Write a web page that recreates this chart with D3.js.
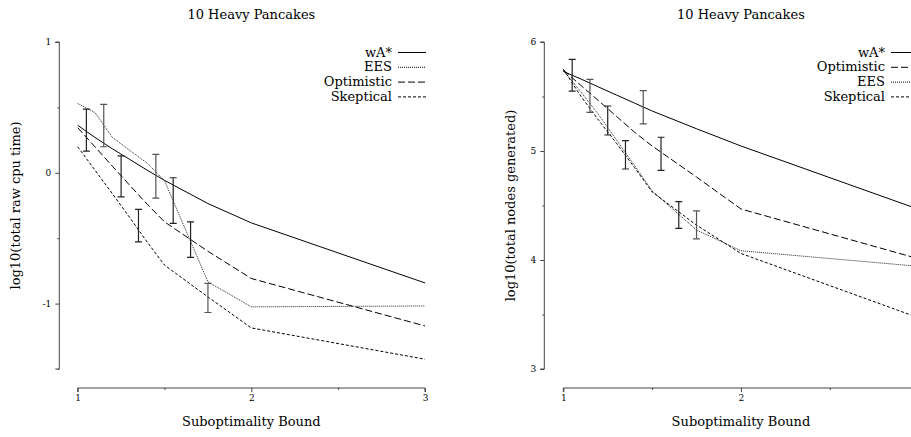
<!DOCTYPE html>
<html><head><meta charset="utf-8">
<script src="https://cdn.jsdelivr.net/npm/d3@7"></script>
<style>
body{margin:0;background:#fff;}
svg{display:block;}
text{font-family:"DejaVu Serif",serif;fill:#000;}
</style></head>
<body>
<svg id="chart" width="911" height="437"></svg>
<script>
// ---- data ----
const bounds = [1, 1.1, 1.2, 1.3, 1.4, 1.5, 1.75, 2, 3];
const cpuWA   = [0.363, 0.27, 0.183, 0.102, 0.02, -0.058, -0.235, -0.383, -0.842];
const cpuEES  = [0.53, 0.46, 0.27, 0.171, 0.074, -0.06, -0.834, -1.025, -1.018];
const cpuOpt  = [0.345, 0.198, 0.05, -0.096, -0.24, -0.375, -0.60, -0.808, -1.171];
const cpuSkep = [0.199, 0.019, -0.16, -0.343, -0.529, -0.706, -0.949, -1.186, -1.425];

const nodesWA   = [5.73, 5.66, 5.586, 5.513, 5.44, 5.367, 5.204, 5.046, 4.465];
const nodesOpt  = [5.743, 5.60, 5.459, 5.317, 5.174, 5.046, 4.761, 4.468, 4.011];
const nodesEES  = [5.74, 5.54, 5.33, 5.10, 4.87, 4.633, 4.275, 4.085, 3.942];
const nodesSkep = [5.75, 5.50, 5.28, 5.07, 4.85, 4.625, 4.32, 4.06, 3.47];

const errX       = [1.05, 1.15, 1.25, 1.35, 1.45, 1.55, 1.65, 1.75];
const cpuErrLo   = [0.166, 0.199, -0.184, -0.528, -0.194, -0.387, -0.647, -1.068];
const cpuErrHi   = [0.487, 0.523, 0.130, -0.28, 0.141, -0.038, -0.375, -0.846];
const nodesErrLo = [5.550, 5.355, 5.147, 4.835, 5.248, 4.823, 4.29, 4.193];
const nodesErrHi = [5.841, 5.658, 5.413, 5.095, 5.553, 5.126, 4.535, 4.45];

const xTicks = [1, 2, 3];
const xMinor = [1.5, 2.5];
const cpuTicks = [-1, 0, 1];
const cpuMinor = [-1.5, -0.5, 0.5];
const nodesTicks = [3, 4, 5, 6];
const nodesMinor = [3.5, 4.5, 5.5];

const titleText = "10 Heavy Pancakes";
const xLabelText = "Suboptimality Bound";

// ---- styles ----
const dash = {"wA*": null, "EES": "1,1", "Optimistic": "7,3", "Skeptical": "3,2"};
const W = 911;

const svg = d3.select("#chart");

function panel(cfg) {
  const g = svg.append("g");
  const x = d3.scaleLinear().domain([1, 3]).range(cfg.xRange);
  const y = d3.scaleLinear().domain(cfg.yDomain).range([369, 42]);
  const fmt = d => String(d);

  // title
  g.append("text").attr("x", x(2)).attr("y", 19).attr("text-anchor", "middle")
    .style("font-size", "13px").text(titleText);

  // x axis (labels only for ticks that fit in the window)
  const xAxisY = 388;
  const xa = g.append("g").attr("transform", `translate(0,${xAxisY})`)
    .call(d3.axisBottom(x).tickValues(xTicks).tickSize(4).tickPadding(3)
      .tickFormat(d => x(d) + 4 < W ? fmt(d) : ""));
  const xm = g.append("g").attr("transform", `translate(0,${xAxisY})`)
    .call(d3.axisBottom(x).tickValues(xMinor).tickSize(2).tickFormat(""));
  xm.select(".domain").remove();
  // y axis
  const ya = g.append("g").attr("transform", `translate(${cfg.yAxisX},0)`)
    .call(d3.axisLeft(y).tickValues(cfg.yTicks).tickSize(4).tickPadding(4).tickFormat(fmt));
  const ym = g.append("g").attr("transform", `translate(${cfg.yAxisX},0)`)
    .call(d3.axisLeft(y).tickValues(cfg.yMinor).tickSize(2).tickFormat(""));
  ym.select(".domain").remove();
  [xa, ya].forEach(a => {
    a.select(".domain").attr("stroke", "#444");
    a.selectAll(".tick text").style("font-size", "9px").style("font-family", "DejaVu Serif, serif");
  });
  xa.selectAll(".domain").attr("d", `M${x(1)},4V0H${x(3)}V4`);
  ya.selectAll(".domain").attr("d", `M-4,${y(cfg.yDomain[0])}H0V${y(cfg.yDomain[1])}H-4`);
  [xa, ya, xm, ym].forEach(a => a.selectAll(".tick line").attr("stroke", "#444"));

  // axis labels
  g.append("text").attr("x", x(2)).attr("y", 426).attr("text-anchor", "middle")
    .style("font-size", "13px").text(xLabelText);
  g.append("text").attr("transform", `translate(${cfg.yLabelX},${(y.range()[0] + y.range()[1]) / 2}) rotate(-90)`)
    .attr("text-anchor", "middle").style("font-size", "13px").text(cfg.yLabel);

  // lines
  const line = d3.line().x(d => x(d[0])).y(d => y(d[1]));
  cfg.series.forEach(s => {
    g.append("path").datum(bounds.map((b, i) => [b, s.values[i]]))
      .attr("d", line).attr("fill", "none")
      .attr("stroke", s.name === "EES" ? "#222" : "#000")
      .attr("stroke-width", 1)
      .attr("stroke-dasharray", dash[s.name]);
  });

  // error bars
  const cap = 3.5;
  errX.forEach((ex, i) => {
    const px = x(ex), y0 = y(cfg.errLo[i]), y1 = y(cfg.errHi[i]);
    g.append("path").attr("d", `M${px},${y0}V${y1}M${px - cap},${y0}H${px + cap}M${px - cap},${y1}H${px + cap}`)
      .attr("fill", "none").attr("stroke", i % 3 === 1 ? "#555" : "#222").attr("stroke-width", 1.2);
  });

  // legend
  cfg.legend.forEach((name, i) => {
    const cy = 52.5 + i * 14.8;
    g.append("text").attr("x", cfg.legendX).attr("y", cy + 4).attr("text-anchor", "end")
      .style("font-size", "13px").text(name);
    g.append("line").attr("x1", cfg.legendX + 6).attr("x2", cfg.legendX + 34)
      .attr("y1", cy).attr("y2", cy).attr("stroke", "#000").attr("stroke-width", 1)
      .attr("stroke-dasharray", dash[name]);
  });
}

panel({
  xRange: [77.7, 425], yDomain: [-1.5, 1], yAxisX: 59.3,
  yTicks: cpuTicks, yMinor: cpuMinor, yLabel: "log10(total raw cpu time)", yLabelX: 20,
  series: [
    {name: "wA*", values: cpuWA}, {name: "EES", values: cpuEES},
    {name: "Optimistic", values: cpuOpt}, {name: "Skeptical", values: cpuSkep}
  ],
  errLo: cpuErrLo, errHi: cpuErrHi,
  legend: ["wA*", "EES", "Optimistic", "Skeptical"], legendX: 392
});

panel({
  xRange: [563.3, 918.6], yDomain: [3, 6], yAxisX: 544.3,
  yTicks: nodesTicks, yMinor: nodesMinor, yLabel: "log10(total nodes generated)", yLabelX: 515,
  series: [
    {name: "wA*", values: nodesWA}, {name: "Optimistic", values: nodesOpt},
    {name: "EES", values: nodesEES}, {name: "Skeptical", values: nodesSkep}
  ],
  errLo: nodesErrLo, errHi: nodesErrHi,
  legend: ["wA*", "Optimistic", "EES", "Skeptical"], legendX: 885
});
</script>
</body></html>
